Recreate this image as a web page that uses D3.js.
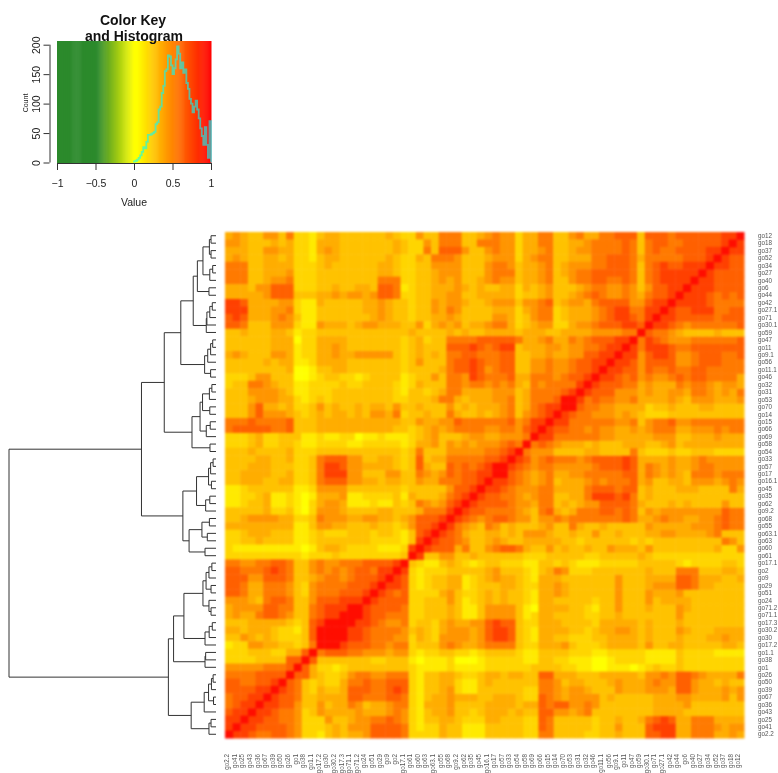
<!DOCTYPE html>
<html><head><meta charset="utf-8">
<script src="https://cdn.jsdelivr.net/npm/d3@7"></script>
<style>html,body{margin:0;padding:0;background:#fff}svg{display:block}text{font-family:"Liberation Sans",Arial,sans-serif}</style>
</head><body><svg id="c" width="778" height="773"></svg>
<script>
const rowLabels = ["go12","go18","go37","go52","go34","go27","go40","go6","go44","go42","go27.1","go71","go30.1","go59","go47","go11","go9.1","go56","go11.1","go46","go32","go31","go53","go70","go14","go15","go66","go69","go58","go54","go33","go57","go17","go16.1","go45","go35","go62","go9.2","go68","go55","go63.1","go63","go60","go61","go17.1","go2","go9","go29","go51","go24","go71.2","go71.1","go17.3","go30.2","go30","go17.2","go1.1","go38","go1","go26","go50","go39","go67","go36","go43","go25","go41","go2.2"];
// shade level (0 = yellow … 9 = red) of the upper-left triangle, read row by row up to the diagonal
const shadeRows = [
"4543355362 2134433333 3432253366 6334565524 4663356446 6777377767 77777889",
"5543334342 2144433333 3343225366 6336665524 4663344566 6676367766 7777789",
"4443355442 2145433333 3343226377 7533565524 4563345566 6676367667 777889",
"4543344342 2134433333 3432243666 5333455524 5663344466 7776466666 77789",
"6663344442 2234333333 4432233555 5333566534 4563455566 7776367877 8889",
"6663344452 2233333333 4432233455 5333566634 4563456677 7776367888 889",
"6663345562 2233333333 6662233454 5334565534 4563356677 6676367888 89",
"4443557772 2233433443 7761233444 5434334424 3453334566 5565357788 9",
"4444457773 3344545545 7762233445 5334444423 3453345676 5565467789",
"8874444552 1143333344 5433233545 5433455535 5673455467 777557889",
"8884445562 1133333344 5433233546 5333344424 5662344456 78866889",
"7874445653 1133333334 5433233445 4333355423 5662344456 7887689",
"7763335552 1154443455 4443352454 5344566423 4552245567 778879",
"3343334431 2233333333 3333433334 3433444434 4433444455 55669",
"3333334440 2244443333 3332342336 6667777764 4564465677 7889",
"3333334441 2244543333 3332343337 7787678834 4455455667 889",
"4543335541 2244544555 5532343436 6776667733 4454455778 89",
"3333343441 1244443333 3332353336 7787667733 5565567788 9",
"3333333340 0133443333 3332333346 7787567733 5565567789",
"2223553330 0123322123 3331233536 6587666744 666567789",
"2336654331 1222232233 3321243336 6566565643 65666689",
"3335555431 1222333333 3321332346 6444455534 6666789",
"3334555442 1232333333 3322333466 4344455634 666799",
"3335744342 2353433434 4353343335 3434445634 67889",
"3335755543 2343443435 5462334336 4334345635 6789",
"6667666673 3344444444 4443354455 7666666756 889",
"6777776673 3344444444 4433234545 6666556657 89",
"2223422333 1121122011 2111234533 3455445556 9",
"2223422332 1122221122 2221244535 4545556769",
"3334333342 2233333333 3332363335 555566789",
"3333443342 2367775533 4432373446 66667789",
"3334443332 2368875544 4432374337 6767899",
"3344443342 2368885533 3553365457 677889",
"3344433442 2367775544 3443354466 67789",
"1123333331 1255553333 3332333335 7789",
"1122341121 0144451122 2231433346 789",
"1123341121 0245541112 1132365457 89",
"3333342231 0255543333 4433346668 9",
"3345555442 2365554455 4434577789",
"4444444441 1355443334 332357789",
"2234443331 1232223332 33213789",
"2233433331 1233333332 2221389",
"2111111111 0134432222 111289",
"2222222222 1222322222 22239",
"6655667763 3565566677 7789",
"7766678763 3565656776 889",
"7775577763 3456656777 89",
"7764466653 2566667778 9",
"7764466653 2566677789",
"5554367763 357778889",
"4555577663 36788899",
"4544677653 3678899",
"3334444432 378999",
"4434443221 37999",
"3354343222 3799",
"1225544332 369",
"2223332244 79",
"2222333377 9",
"5555566679",
"666677779",
"77667789",
"7777889",
"677889",
"67889",
"7889",
"889",
"89",
"9"
];
const shadeValues = [0.03,0.12,0.2,0.27,0.35,0.44,0.54,0.64,0.76,0.95];

const histCounts = [2,3,5,8,12,18,26,24,35,47,47,48,50,52,65,68,90,95,118,130,155,158,182,180,165,150,160,175,197,185,160,170,152,158,135,125,108,100,85,95,105,90,75,58,45,30,60,30,8,70];
const keyTicks = [-1,-0.5,0,0.5,1];
const countTicks = [0,50,100,150,200];

// dendrogram: [height, childA, childB]; a number is a row index
const tree = [100,
  [36,
    [25,
      [17,
        [11,
          [9,
            [6.3, [3.2,[2.4,0,1],[2.4,2,3]], [3.0,[1.6,4,5],6]],
            [3.4,7,8]],
          [4.7,[4.4,[3,[1.8,9,10],11],12],13]],
        [5.5,[4,[2.6,[1.6,14,15],16],17],[2.6,18,19]]],
      [11.6,
        [7.7,[6.5,[3.2,[2,20,21],22],[3,23,24]],[4.7,[2.8,25,26],27]],
        [2.9,28,29]]],
    [16,
      [9.4,[3.6,[2.6,[1.4,30,31],32],[2.2,33,34]],[5,[3,35,36],37]],
      [13,[6.8,[3.2,38,39],[4.2,40,41]],[5.3,42,43]]]],
  [23,
    [20.5,
      [15.5,
        [6.3,[4.8,[3.4,[2,44,45],46],[2.4,47,48]],[3.4,49,[2.4,50,51]]],
        [5.3,[3.3,[1.8,52,53],54],55]],
      [5.3,[5,56,57],58]],
    [12,
      [5.7,[3.6,[2.2,[1.4,59,60],61],[1.2,62,63]],64],
      [3.4,[2.4,65,66],67]]]];

const svg = d3.select("#c");
const n = rowLabels.length;
const x = d3.scaleBand().domain(d3.range(n)).range([225,744]);
const y = d3.scaleBand().domain(d3.range(n)).range([232,738]);
const color = d3.scaleLinear().domain([-1,-0.47,0,0.04,1]).range(["#2c8a2c","#2c8a2c","#ffff00","#ffff00","#ff0000"]);
const soft = "blur(0.8px)";

// heat cells (mirror the triangle across the anti-diagonal)
const cells = [];
shadeRows.forEach((s,r)=>{
  [...s.replace(/\s/g,"")].forEach((ch,c)=>{
    const v = shadeValues[+ch];
    cells.push({r,c,v});
    if (c !== n-1-r) cells.push({r:n-1-c,c:n-1-r,v});
  });
});
svg.append("g").style("filter",soft)
  .selectAll("rect").data(cells).join("rect")
  .attr("x",d=>x(d.c)).attr("y",d=>y(d.r))
  .attr("width",x.bandwidth()+0.5).attr("height",y.bandwidth()+0.5)
  .attr("fill",d=>color(d.v));

// row and column labels
const labG = svg.append("g").attr("fill","#555").attr("font-size",6.3).style("filter","blur(0.35px)");
labG.selectAll("text.r").data(rowLabels).join("text").attr("class","r")
  .attr("x",758).attr("y",(d,i)=>y(i)+y.bandwidth()/2).attr("dy","0.35em").text(d=>d);
labG.selectAll("text.c").data(d3.range(n)).join("text").attr("class","c")
  .attr("text-anchor","end")
  .attr("transform",i=>`translate(${x(i)+x.bandwidth()/2-2},754) rotate(-90)`)
  .attr("dy","0.35em").text(i=>rowLabels[n-1-i]);

// dendrogram
const dx = d3.scaleLinear().domain([0,100]).range([216,9]);
const segs = [];
function place(nd){
  if (typeof nd === "number") return {x:dx(0), y:y(nd)+y.bandwidth()/2};
  const a = place(nd[1]), b = place(nd[2]);
  const px = dx(nd[0]);
  segs.push(`M${a.x},${a.y}H${px}V${b.y}H${b.x}`);
  return {x:px,y:(a.y+b.y)/2};
}
place(tree);
svg.append("path").attr("d",segs.join("")).attr("fill","none").attr("stroke","#333").attr("stroke-width",1).style("filter","blur(0.25px)");

// color key
const kx = d3.scaleLinear().domain([-1,1]).range([57,211]);
const ky = d3.scaleLinear().domain([0,200]).range([162.5,44.7]);
const keyBins = d3.range(-1,1,0.0125);
const keyG = svg.append("g").style("filter","blur(0.4px)");
keyG.selectAll("rect").data(keyBins).join("rect")
  .attr("x",d=>kx(d)).attr("y",41).attr("height",122)
  .attr("width",d=>kx(d+0.0125)-kx(d)+0.5).attr("fill",d=>color(d+0.00625));

// histogram
const histPts = histCounts.map((c,i)=>[i*0.02,c]);
const line = d3.line().x(d=>kx(d[0])).y(d=>ky(d[1])).curve(d3.curveStepAfter);
keyG.append("path").datum([[0,0],...histPts,[1,70],[1,0]]).attr("d",line)
  .attr("fill","none").attr("stroke","rgba(0,255,255,0.6)").attr("stroke-width",1.8);

const axG = svg.append("g").attr("fill","#222").style("filter","blur(0.3px)");
const xAxis = axG.append("g").attr("transform","translate(0,163)")
  .call(d3.axisBottom(kx).tickValues(keyTicks).tickSize(7).tickPadding(10).tickFormat(d=>String(d).replace("-","\u2212")));
const yAxis = axG.append("g").attr("transform","translate(49.5,0)")
  .call(d3.axisLeft(ky).tickValues(countTicks).tickSize(6));
xAxis.selectAll("text").attr("font-size",10.5).attr("fill","#222").style("font-family",'"Liberation Sans"');
yAxis.selectAll("text").attr("font-size",10.5).attr("fill","#222").style("font-family",'"Liberation Sans"')
  .attr("text-anchor","middle").attr("x",null).attr("dy",null)
  .attr("transform","translate(-10,0) rotate(-90)");
xAxis.selectAll("path,line").attr("stroke","#333");
yAxis.selectAll("path,line").attr("stroke","#333");
xAxis.select(".domain").attr("d",`M${kx(-1)},0.5H${kx(1)}`);
yAxis.select(".domain").attr("d",`M0.5,${ky(0)}V${ky(200)}`);

axG.append("text").attr("x",134).attr("y",206).attr("text-anchor","middle").attr("font-size",10.5).text("Value");
axG.append("text").attr("transform","translate(28,103) rotate(-90)").attr("text-anchor","middle").attr("font-size",7).text("Count");
axG.append("text").attr("x",133).attr("y",25).attr("text-anchor","middle").attr("font-size",14).attr("font-weight","bold").attr("fill","#111").text("Color Key");
axG.append("text").attr("x",134).attr("y",41).attr("text-anchor","middle").attr("font-size",14).attr("font-weight","bold").attr("fill","#111").text("and Histogram");
</script></body></html>
